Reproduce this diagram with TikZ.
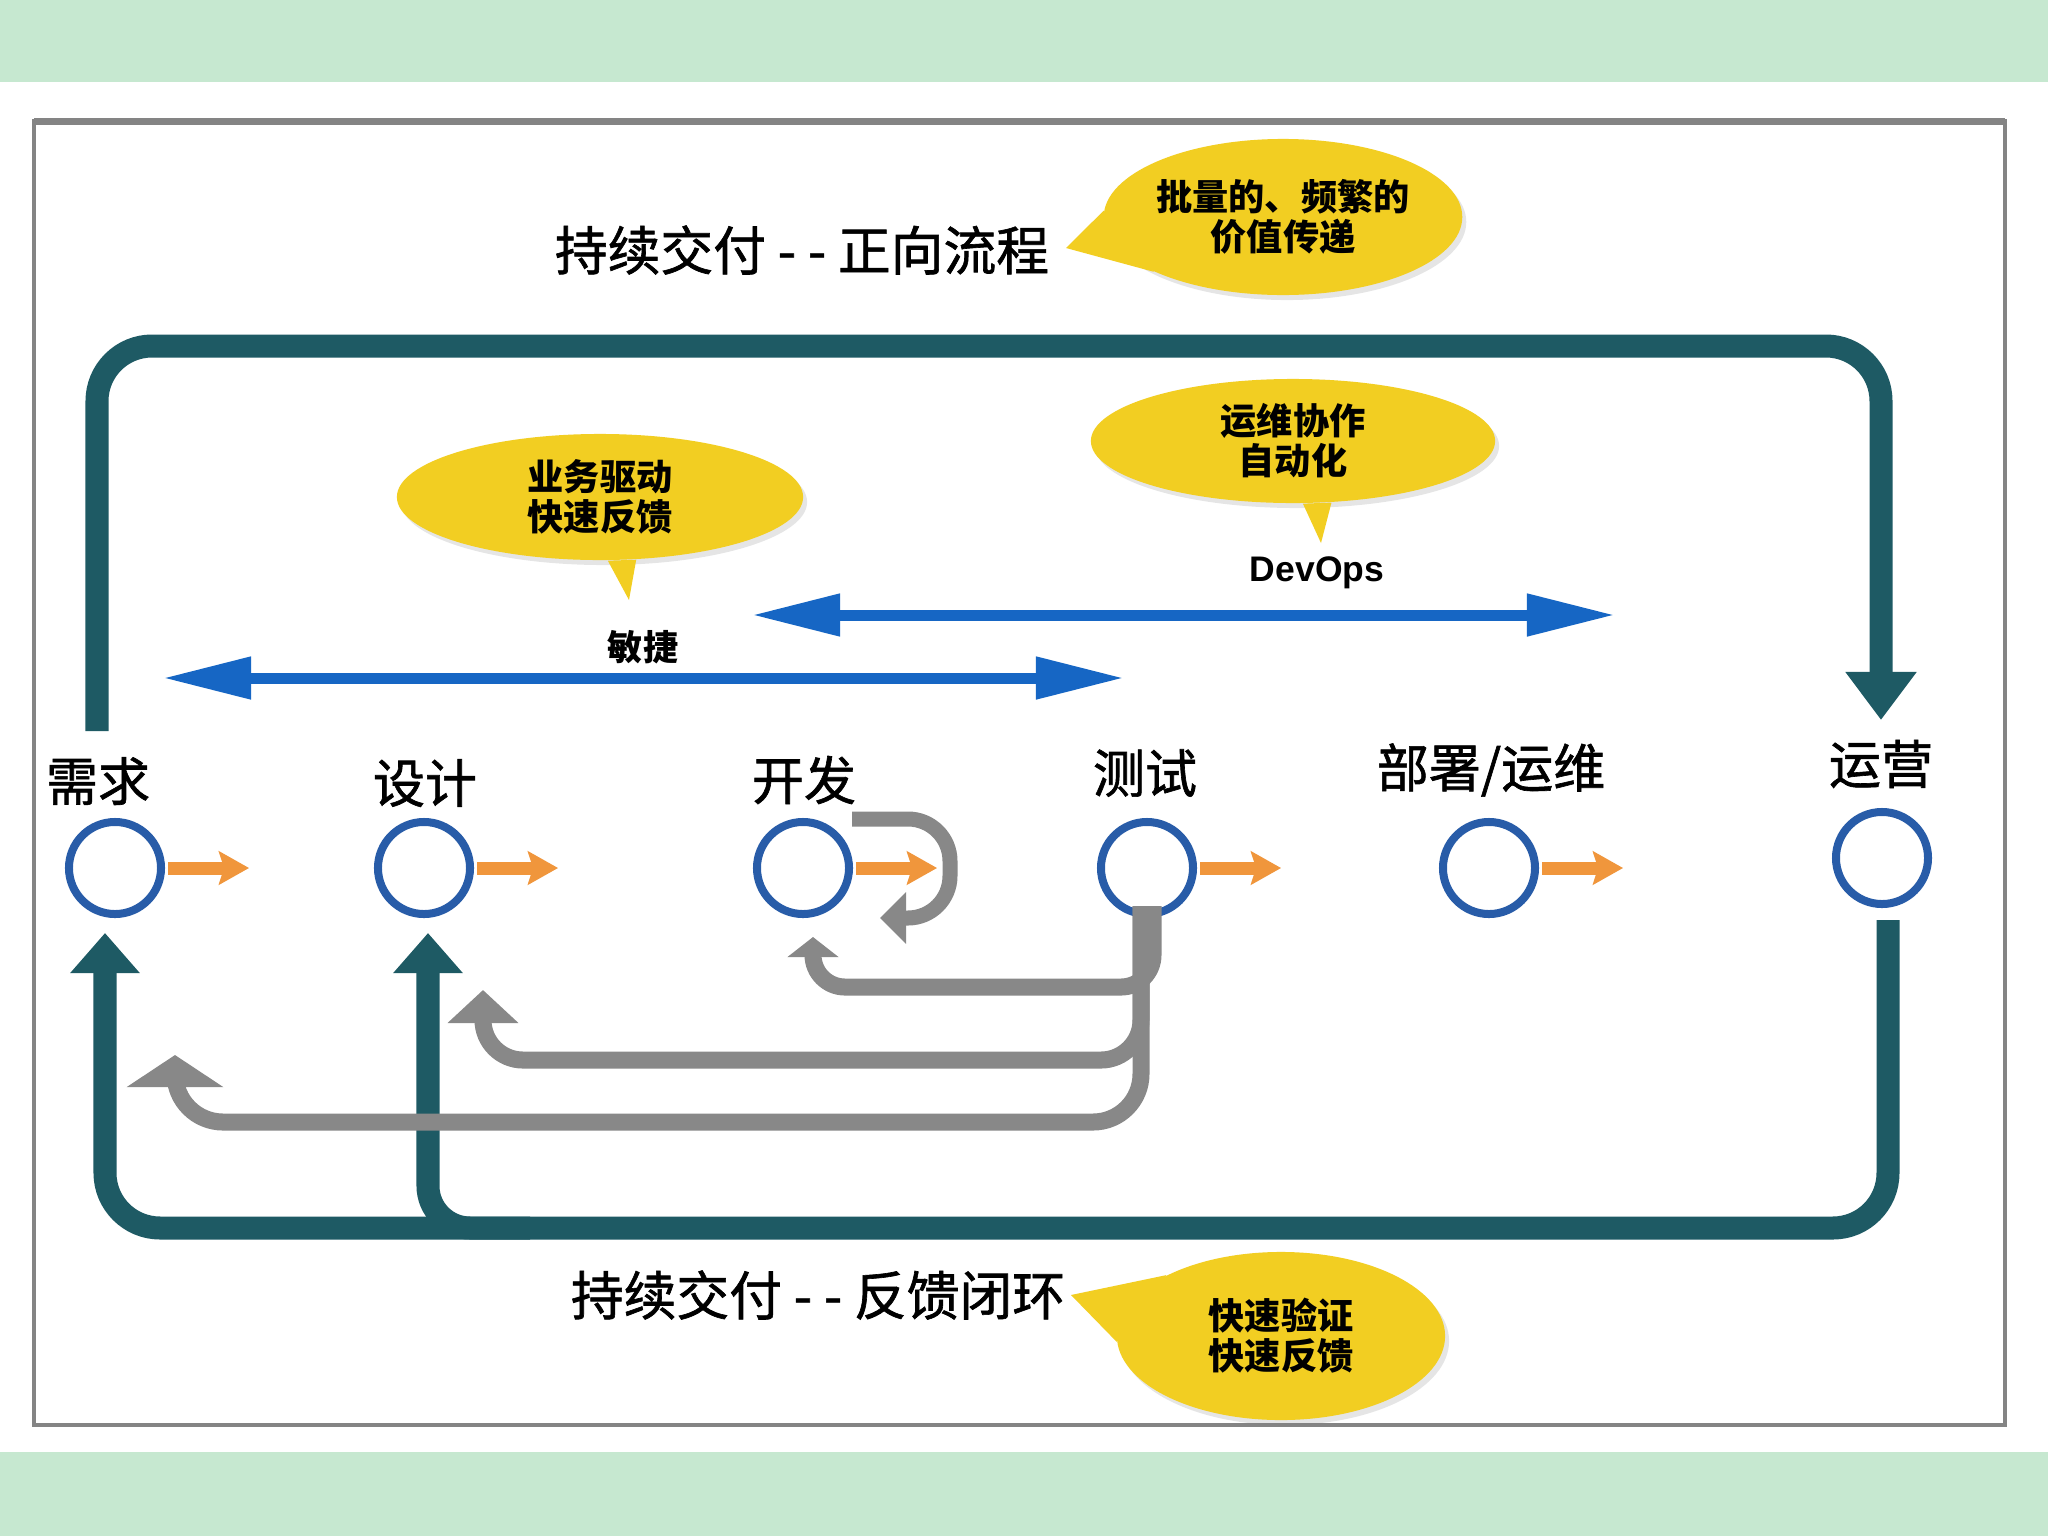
\documentclass[tikz,border=0pt]{standalone}
\usepackage{fontspec}
\setmainfont{Liberation Sans}
\newfontfamily\cjk{Noto Sans CJK SC}
\newfontfamily\cjkh[FakeBold=1.2]{Noto Sans CJK SC}
\usetikzlibrary{arrows.meta,shapes.geometric,shadows}

\definecolor{bandgreen}{RGB}{198,232,208}
\definecolor{framegray}{RGB}{132,132,132}
\definecolor{stageblue}{RGB}{40,92,168}
\definecolor{flowor}{RGB}{240,150,60}
\definecolor{loopteal}{RGB}{30,90,100}
\definecolor{fbgray}{RGB}{136,136,136}
\definecolor{spanblue}{RGB}{22,102,196}
\definecolor{bubbleyel}{RGB}{242,206,34}

\tikzset{
  stage/.style={circle, draw=stageblue, line width=0.08cm, fill=white, minimum size=0.92cm, inner sep=0pt},
  stagetext/.style={font=\cjkh\fontsize{14.8pt}{16pt}\selectfont, inner sep=0pt},
  headline/.style={font=\cjkh\fontsize{15pt}{16pt}\selectfont, inner sep=0pt},
  flow/.style={flowor, line width=0.13cm, shorten <=0.03cm, -{Stealth[length=0.3cm,width=0.33cm,inset=0.05cm]}},
  fwd/.style={loopteal, line width=0.23cm, rounded corners=0.55cm},
  fback/.style={fbgray, line width=0.17cm, rounded corners=0.4cm},
  spanarrow/.style={spanblue, line width=0.11cm, {Triangle[length=0.88cm,width=0.4cm]}-{Triangle[length=0.88cm,width=0.4cm]}},
  spantext/.style={font=\cjk\bfseries\fontsize{10pt}{11pt}\selectfont, inner sep=0pt},
  bubble/.style={ellipse, fill=bubbleyel, inner sep=0pt, align=center,
    font=\cjk\bfseries\fontsize{10.3pt}{11.4pt}\selectfont,
    drop shadow={shadow xshift=0.04cm, shadow yshift=-0.05cm, opacity=0.2}},
  tail/.style={fill=bubbleyel}
}

\begin{document}
\begin{tikzpicture}[x=0.01cm,y=-0.01cm]
\useasboundingbox (0,0) rectangle (2048,1536);
\fill[white] (0,0) rectangle (2048,1536);
\fill[bandgreen] (0,0) rectangle (2048,82);
\fill[bandgreen] (0,1452) rectangle (2048,1536);
\draw[framegray, line width=0.04cm] (34,121) rectangle (2005,1425);
\draw[framegray, line width=0.07cm] (34,121) -- (2005,121);

\foreach \n/\x/\y/\lx/\ly/\lbl in {req/115/868/98/781/需求, des/424/868/425/783/设计, dev/803/868/804/780/开发, tst/1147/868/1145/773/测试, dep/1489/868/1491/770/{部署/运维}, ops/1882/858/1881/764/运营}{
\node[stage] (\n) at (\x,\y) {};
\node[stagetext] (\n-t) at (\lx,\ly) {\lbl};
}

\foreach \n in {req,des,dev,tst,dep}{
\coordinate (\n-o) at ([xshift=0.84cm]\n.east);
\draw[flow] (\n) -- (\n-o);
}

\coordinate (fwd-out) at (97,731);
\coordinate (fwd-in) at (1881,720);
\draw[fwd, -{Triangle[length=0.48cm,width=0.68cm]}] (fwd-out) -- ++(0,-385) -| (fwd-in);

\coordinate (back-out) at (1888,920);
\coordinate (back-in) at (105,933);
\coordinate (back-split) at (530,1228);
\coordinate (back-des) at (428,933);
\draw[fwd, -{Triangle[length=0.4cm,width=0.67cm]}] (back-out) -- ++(0,308) -| (back-in);
\draw[fwd, rounded corners=0.42cm, -{Triangle[length=0.4cm,width=0.67cm]}] (back-split) -| (back-des);

\coordinate (fb-a) at ([shift={(0.06cm,0.12cm)}]tst.south);
\coordinate (fb-b) at ([shift={(-0.06cm,0.12cm)}]tst.south);
\coordinate (fb-dev) at (813,937);
\coordinate (fb-des) at (483,990);
\coordinate (fb-req) at (175,1055);
\draw[fback, rounded corners=0.32cm, -{Triangle[length=0.2cm,width=0.5cm]}] (fb-a) -- ++(0,81) -| (fb-dev);
\draw[fback, -{Triangle[length=0.33cm,width=0.69cm]}] (fb-b) -- ++(0,154) -| (fb-des);
\draw[fback, rounded corners=0.48cm, -{Triangle[length=0.32cm,width=0.95cm]}] (fb-b) -- ++(0,216) -| (fb-req);

\coordinate (self-out) at (852,819);
\coordinate (self-in) at (880,918);
\draw[fback, line width=0.15cm, rounded corners=0.42cm, -{Triangle[length=0.26cm,width=0.5cm]}] (self-out) -- ++(98,0) |- (self-in);

\coordinate (agile-l) at (163,678);
\coordinate (agile-r) at (1124,678);
\draw[spanarrow] (agile-l) -- (agile-r);
\coordinate (devops-l) at (752,615);
\coordinate (devops-r) at (1615,615);
\draw[spanarrow] (devops-l) -- (devops-r);
\node[spantext] (agile) at (643,647) {敏捷};
\node[font=\bfseries\fontsize{10.1pt}{11pt}\selectfont, inner sep=0pt] (devops) at (1317,573) {DevOps};

\node[bubble, minimum width=3.34cm, minimum height=1.56cm] (b-batch) at (1283,217) {批量的、频繁的\\价值传递};
\fill[tail] (b-batch.178) -- (1066,248) -- (b-batch.203) -- cycle;
\node[bubble, minimum width=4.06cm, minimum height=1.26cm] (b-agile) at (600,497) {业务驱动\\快速反馈};
\fill[tail] (b-agile.277) -- (629,600) -- (b-agile.300) -- cycle;
\node[bubble, minimum width=4.04cm, minimum height=1.24cm] (b-ops) at (1293,441) {运维协作\\自动化};
\fill[tail] (b-ops.279) -- (1321,543) -- (b-ops.302) -- cycle;
\node[bubble, minimum width=3.28cm, minimum height=1.68cm] (b-fast) at (1281,1336) {快速验证\\快速反馈};
\fill[tail] (b-fast.152) -- (1071,1295) -- (b-fast.182) -- cycle;

\node[headline] (fwd-title) at (802,250) {持续交付 - - 正向流程};
\node[headline] (back-title) at (818,1295) {持续交付 - - 反馈闭环};
\end{tikzpicture}
\end{document}
